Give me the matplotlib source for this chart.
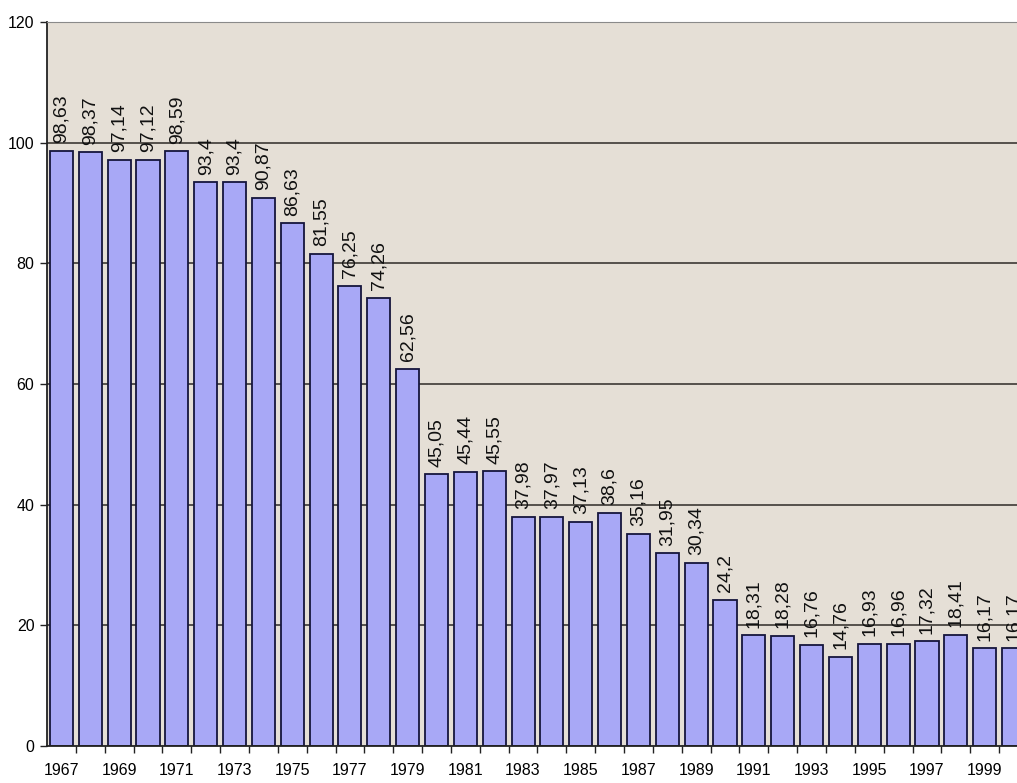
import matplotlib
matplotlib.use('Agg')
import matplotlib.pyplot as plt

plt.rcParams['font.family'] = ['Liberation Sans', 'DejaVu Sans']

# 年份与数值
years = list(range(1967, 2001))
values = [98.63, 98.37, 97.14, 97.12, 98.59, 93.4, 93.4, 90.87, 86.63, 81.55,
          76.25, 74.26, 62.56, 45.05, 45.44, 45.55, 37.98, 37.97, 37.13, 38.6,
          35.16, 31.95, 30.34, 24.2, 18.31, 18.28, 16.76, 14.76, 16.93, 16.96,
          17.32, 18.41, 16.17, 16.17]
tick_years = years[::2]
y_ticks = [0, 20, 40, 60, 80, 100, 120]

fig = plt.figure(figsize=(10.17, 7.83), dpi=100)
# 绘图区右侧超出画布，最后一根柱子被截掉一部分
ax = fig.add_axes([0.0462, 0.0473, 0.9646, 0.9246])
ax.set_facecolor('#E5DFD6')

x = list(range(len(years)))
ax.bar(x, values, width=0.8, color='#A8A8F6', edgecolor='#15153c',
       linewidth=1.3, zorder=2)

for xi, v in zip(x, values):
    txt = f'{v:g}'.replace('.', ',')
    ax.annotate(txt, (xi, v), xytext=(0, 5.5), textcoords='offset points',
                rotation=90, ha='center', va='bottom', fontsize=14,
                color='#111111', zorder=3)

ax.set_xlim(-0.5, len(years) - 0.5)
ax.set_ylim(0, 120)
ax.set_yticks(y_ticks)
ax.set_yticklabels([str(t) for t in y_ticks], fontsize=11.5)
for t in y_ticks[1:]:
    ax.axhline(t, color='#2e2a26', linewidth=1.1, zorder=1)

# 刻度线在类别边界，年份标签在柱子中央
ax.set_xticks([i + 0.5 for i in x[:-1]])
ax.set_xticklabels([])
ax.set_xticks([years.index(y) for y in tick_years], minor=True)
ax.set_xticklabels([str(y) for y in tick_years], minor=True, fontsize=11.5)
ax.tick_params(axis='x', which='major', length=5, width=1, direction='out',
               color='#222222')
ax.tick_params(axis='x', which='minor', length=0, pad=12)
ax.tick_params(axis='y', length=5, width=1, direction='out', color='#222222',
               pad=4)

ax.spines['right'].set_visible(False)
ax.spines['top'].set_color('#8a8a8a')
ax.spines['left'].set_color('#222222')
ax.spines['left'].set_linewidth(1.3)
ax.spines['bottom'].set_color('#222222')
ax.spines['bottom'].set_linewidth(1.3)

fig.savefig('out.png', dpi=100, facecolor='white')
